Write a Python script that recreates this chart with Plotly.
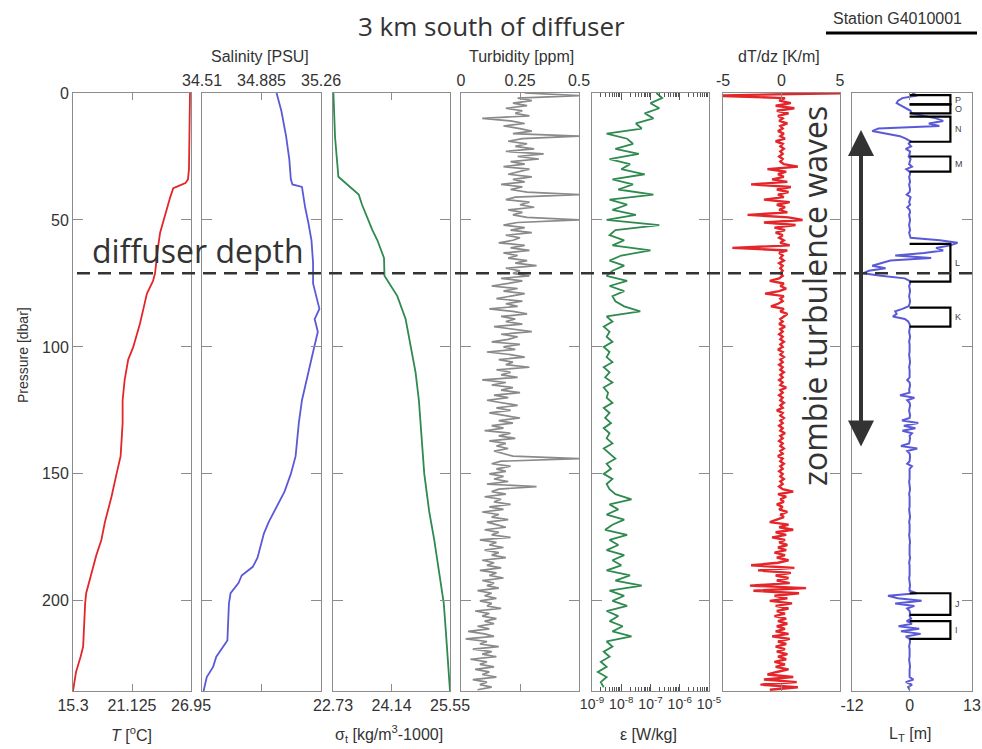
import numpy as np
import plotly.graph_objects as go

W, H = 982, 749

# ---------------- data ----------------
# Temperature profile [deg C]
T_p = [0, 10, 20, 30, 34, 35.5, 36.5, 37.5, 41, 46, 50, 55, 62, 71, 74, 79, 85, 91, 100, 105,
       113, 121, 130, 143, 150, 159, 169, 176, 182, 189, 193, 197, 201, 210, 218, 222, 228, 235.5]
T_v = [26.85, 26.84, 26.82, 26.75, 26.65, 26.4, 25.8, 25.2, 24.9, 24.55, 24.2, 23.9, 23.65, 23.4,
       23.2, 22.6, 22.25, 21.9, 21.25, 20.75, 20.4, 20.2, 20.2, 20.0, 19.6, 19.1, 18.45, 18.1,
       17.6, 17.15, 16.9, 16.6, 16.5, 16.4, 16.3, 16.05, 15.6, 15.3]

# Salinity profile [PSU]
S_p = [0, 7, 17, 26, 34, 36, 37, 45, 51, 58, 67, 75, 80, 85, 89, 94, 102, 113, 121, 130, 143,
       150, 157, 169, 173.5, 183, 186.6, 190, 193, 197, 201, 208, 215.6, 222, 226, 230, 235.5]
S_v = [34.98, 35.01, 35.04, 35.06, 35.07, 35.08, 35.14, 35.16, 35.18, 35.20, 35.21, 35.21, 35.23,
       35.25, 35.22, 35.24, 35.21, 35.17, 35.14, 35.12, 35.10, 35.07, 35.03, 34.93, 34.90, 34.86,
       34.83, 34.76, 34.74, 34.69, 34.68, 34.675, 34.67, 34.60, 34.58, 34.54, 34.52]

# sigma_t profile [kg/m3 - 1000]
Sg_p = [0, 17.5, 33, 34.3, 37, 40, 44, 49, 54, 58, 65, 72, 76, 80, 89, 102, 110, 121, 135, 150,
        165, 176, 189, 201, 212, 222, 235.5]
Sg_v = [22.74, 22.78, 22.86, 22.95, 23.15, 23.35, 23.43, 23.55, 23.68, 23.80, 23.96, 23.97, 24.12,
        24.28, 24.48, 24.64, 24.72, 24.80, 24.86, 24.93, 25.05, 25.17, 25.29, 25.40, 25.45, 25.50,
        25.55]

# Turbidity [ppm], 1 dbar steps from 0 dbar
turb = [0.27, 0.50, 0.24, 0.30, 0.22, 0.28, 0.19, 0.26, 0.23, 0.29,
        0.09, 0.21, 0.27, 0.18, 0.25, 0.30, 0.22, 0.50, 0.26, 0.20,
        0.28, 0.23, 0.31, 0.19, 0.35, 0.24, 0.33, 0.21, 0.27, 0.18,
        0.29, 0.24, 0.20, 0.30, 0.22, 0.27, 0.17, 0.26, 0.21, 0.28,
        0.50, 0.23, 0.19, 0.29, 0.25, 0.31, 0.20, 0.26, 0.22, 0.28,
        0.50, 0.24, 0.18, 0.27, 0.21, 0.30, 0.19, 0.25, 0.22, 0.16,
        0.27, 0.21, 0.29, 0.18, 0.24, 0.20, 0.28, 0.23, 0.32, 0.19,
        0.25, 0.22, 0.29, 0.17, 0.26, 0.20, 0.13, 0.24, 0.18, 0.27,
        0.21, 0.15, 0.26, 0.19, 0.24, 0.12, 0.22, 0.28, 0.17, 0.23,
        0.19, 0.26, 0.14, 0.22, 0.30, 0.17, 0.24, 0.20, 0.13, 0.25,
        0.18, 0.23, 0.11, 0.21, 0.27, 0.16, 0.22, 0.19, 0.29, 0.15,
        0.21, 0.17, 0.24, 0.09, 0.19, 0.13, 0.22, 0.17, 0.25, 0.14,
        0.20, 0.11, 0.18, 0.24, 0.15, 0.21, 0.12, 0.19, 0.25, 0.16,
        0.22, 0.13, 0.18, 0.10, 0.21, 0.16, 0.23, 0.12, 0.19, 0.15,
        0.20, 0.14, 0.18, 0.22, 0.50, 0.17, 0.13, 0.21, 0.15, 0.19,
        0.12, 0.18, 0.14, 0.20, 0.11, 0.32, 0.16, 0.13, 0.19, 0.10,
        0.17, 0.14, 0.21, 0.12, 0.18, 0.09, 0.16, 0.13, 0.20, 0.11,
        0.15, 0.19, 0.10, 0.16, 0.13, 0.21, 0.08, 0.15, 0.12, 0.18,
        0.10, 0.16, 0.13, 0.19, 0.09, 0.14, 0.11, 0.17, 0.08, 0.15,
        0.12, 0.18, 0.09, 0.14, 0.11, 0.16, 0.07, 0.13, 0.10, 0.15,
        0.08, 0.13, 0.11, 0.17, 0.06, 0.12, 0.09, 0.15, 0.10, 0.14,
        0.07, 0.12, 0.03, 0.10, 0.14, 0.02, 0.11, 0.08, 0.16, 0.05,
        0.13, 0.09, 0.15, 0.04, 0.11, 0.08, 0.14, 0.06, 0.12, 0.09,
        0.15, 0.05, 0.11, 0.08, 0.13, 0.07]

# Dissipation rate log10(epsilon [W/kg]), 2 dbar steps from 0 dbar
eps_log = [-6.8, -6.6, -7.0, -6.7, -7.2, -6.9, -7.5, -7.3, -8.5, -7.8,
           -7.6, -8.2, -7.4, -8.4, -7.7, -8.0, -7.2, -8.3, -7.6, -8.1,
           -6.9, -8.4, -7.8, -8.3, -7.5, -8.5, -6.7, -8.2, -8.4, -7.9,
           -8.3, -7.0, -8.0, -8.4, -7.9, -8.3, -8.5, -7.8, -8.4, -7.9,
           -8.3, -8.2, -7.9, -7.35, -8.5, -8.3, -8.6, -8.4, -8.5, -8.3,
           -8.6, -8.4, -8.5, -8.3, -8.6, -8.4, -8.55, -8.3, -8.6, -8.45,
           -8.5, -8.3, -8.6, -8.4, -8.55, -8.35, -8.6, -8.4, -8.5, -8.3,
           -8.6, -8.4, -8.2, -8.5, -8.35, -8.6, -8.3, -8.5, -8.4, -8.2,
           -7.65, -8.4, -8.1, -8.5, -7.9, -8.3, -8.55, -7.8, -8.4, -8.1,
           -8.5, -7.9, -8.3, -8.0, -8.5, -7.7, -8.2, -7.3, -8.4, -7.9,
           -8.3, -7.8, -8.5, -8.1, -8.4, -7.95, -8.3, -7.65, -8.5, -8.3,
           -8.6, -8.4, -8.7, -8.5, -8.8, -8.5, -8.7, -8.6]

# Temperature gradient dT/dz [K/m], 1 dbar steps from 0 dbar
dTdz = [6.0, -6.0, 0.3, -0.2, 0.8, -0.5, 1.1, -0.4, 0.6, -0.3,
        0.1, -0.2, 0.5, -0.1, 0.1, -0.3, 0.2, -0.1, 0.3, -0.5,
        0.1, -0.1, 0.2, -0.1, 0.1, -0.2, 0.1, -0.1, 0.2, 1.4,
        -1.2, 0.4, -0.3, 0.2, -0.8, 0.5, -2.6, 0.8, -0.4, 0.6,
        -0.3, 0.2, -1.5, 0.7, -0.4, 0.3, -0.2, 0.5, -2.9, 0.6,
        1.8, -1.5, 1.2, -0.6, 0.3, -0.5, 0.1, -0.2, 0.2, -0.1,
        0.7, -4.2, 0.5, -0.2, 0.1, -0.1, 0.2, -0.2, 0.1, -0.1,
        0.1, -0.1, 0.1, -0.2, -1.0, 0.2, -0.1, 0.4, -0.2, -1.4,
        0.2, -0.1, 0.1, -0.3, -0.9, 0.2, -0.1, 0.5, 0.2, -0.1,
        0.1, -0.2, 0.3, -0.1, 0.1, -0.2, 0.1, -0.1, 0.2, -0.1,
        0.1, -0.3, 0.1, -0.1, 0.2, -0.1, 0.1, -0.2, 0.1, -0.1,
        0.2, -0.1, 0.1, -0.2, 0.1, -0.1, 0.4, -0.1, 0.1, -0.2,
        0.1, -0.1, 0.2, -0.1, 0.1, -0.4, 0.1, -0.1, 0.2, -0.1,
        0.1, -0.2, 0.1, -0.1, 0.3, -0.1, 0.1, -0.2, 0.1, -0.1,
        0.2, -0.1, 0.1, -0.3, 0.1, -0.1, 0.2, -0.1, 0.1, -0.2,
        0.1, -0.1, 0.2, -0.1, 0.1, -0.2, 0.1, 1.0, -0.3, 0.4,
        -0.1, 0.2, -0.4, 0.1, -0.2, 0.5, -0.1, 0.2, -0.4, -1.0,
        0.6, -0.2, 1.0, -0.5, 0.4, -0.8, 0.3, -0.2, 0.5, -0.3,
        0.4, -0.6, 0.3, -0.4, 0.6, -0.3, -2.6, 1.1, -2.0, 0.8,
        -0.5, 0.6, -0.4, 0.7, -2.7, 2.1, -2.4, 1.5, -0.6, 0.5,
        -1.0, 0.9, -0.5, 0.6, -0.4, 0.3, -0.6, 0.4, -0.3, 0.5,
        -0.4, 0.3, -0.5, 0.6, -0.8, 0.7, -0.3, 0.4, -0.5, 0.3,
        -0.4, 0.5, -0.3, 0.4, -0.6, 0.3, -0.5, 0.6, -0.4, -1.2,
        1.0, -1.5, 1.3, -1.8, 1.4, -1.0]

# Thorpe displacement L_T [m], 1 dbar steps from 0 dbar
LT = [0.5, 1.6, -1.5, -2.4, -2.7, -1.8, -0.8, 0.2, 0.4, 2.8,
      5.5, 7.0, 4.0, 6.2, -6.5, -7.8, -4.5, -2.0, -0.8, 0.2,
      -0.2, 0.3, -0.8, 0.1, 0.0, -0.2, 0.2, 0.0, -0.1, 0.5,
      -0.7, 0.0, 0.1, -0.1, 0.0, 0.1, -0.1, 0.0, 0.1, 0.0,
      -0.6, 0.2, 0.0, -0.1, 0.1, -0.5, 0.0, 0.1, -0.1, 0.0,
      0.1, 0.0, -0.1, 0.0, 0.1, -0.1, 0.0, 0.2, 6.3, 10.0,
      8.5, 5.5, 7.0, 3.0, -3.0, 4.5, -4.0, -6.0, -7.8, -5.0,
      -8.5, -9.7, -6.0, -1.0, 0.0, 0.1, -0.1, 0.0, 0.1, 0.0,
      -0.1, 0.0, 0.1, 0.0, -0.2, -1.5, -3.0, -2.7, -3.5, -1.0,
      -0.3, 0.0, 0.1, 0.0, -0.1, 0.0, 0.1, 0.0, -0.1, 0.0,
      0.0, 0.1, 0.0, -0.1, 0.0, 0.0, 0.1, 0.0, -0.1, 0.0,
      0.0, 0.1, 0.0, -0.5, 0.0, 0.1, 0.0, -0.1, 0.0, -2.0,
      1.0, -0.5, 0.0, 0.1, 0.0, -0.1, 0.0, 0.1, 0.0, -1.6,
      1.8, -1.2, 1.2, -1.5, 0.5, 0.0, 0.1, 0.0, -0.1, -1.8,
      1.6, -0.5, 0.0, 0.1, 0.0, 0.0, -0.5, 0.5, 0.0, 0.0,
      0.0, 0.1, 0.0, -0.1, 0.0, 0.0, 0.1, 0.0, -0.1, 0.0,
      0.0, 0.0, 0.1, 0.0, -0.1, 0.0, 0.0, 0.1, 0.0, -0.1,
      0.0, 0.0, 0.1, 0.0, -0.1, 0.0, 0.0, 0.1, 0.0, 0.0,
      -0.1, 0.0, 0.0, 0.1, 0.0, -0.1, 0.0, 0.0, 0.1, 0.0,
      0.0, -0.1, 0.0, 0.0, 0.1, 0.0, 0.0, 1.5, -4.5, -2.5,
      2.5, -3.0, 1.0, -0.5, 0.0, 0.1, 0.0, 0.3, -0.6, 0.5,
      -2.3, 2.0, -1.8, 2.3, -0.8, 0.0, 0.1, 0.0, -0.1, 0.0,
      0.0, 0.1, 0.0, -0.1, 0.0, 0.0, 0.1, 0.0, 0.0, -0.1,
      0.0, 0.8, -0.8, 0.5, -0.3, 0.0]

# Overturn brackets (pressure range [dbar]) and labels
br_top = [0.8, 4.5, 9.3, 25.0, 59.4, 84.5, 197.0, 208.0]
br_bot = [4.5, 8.0, 19.2, 31.0, 74.3, 92.0, 205.5, 215.0]
br_lab = ['P', 'O', 'N', 'M', 'L', 'K', 'J', 'I']
br_width = 8.5          # L_T extent of brackets [m]

diffuser_depth = 71     # dbar

# Axis ranges and tick labels
x_ranges = [[15.3, 26.95], [34.51, 35.26], [22.73, 25.55], [0, 0.5], [-9, -5], [-5, 5], [-12, 13]]
x_tickvals = [[15.3, 21.125, 26.95], [34.51, 34.885, 35.26], [22.73, 24.14, 25.55],
              [0, 0.25, 0.5], [1e-9, 1e-8, 1e-7, 1e-6, 1e-5], [-5, 0, 5], [-12, 0, 13]]
x_ticktext = [['15.3', '21.125', '26.95'], ['34.51', '34.885', '35.26'], ['22.73', '24.14', '25.55'],
              ['0', '0.25', '0.5'],
              ['10<sup>-9</sup>', '10<sup>-8</sup>', '10<sup>-7</sup>', '10<sup>-6</sup>', '10<sup>-5</sup>'],
              ['-5', '0', '5'], ['-12', '0', '13']]
x_sides = ['bottom', 'top', 'bottom', 'top', 'bottom', 'top', 'bottom']
p_ticks = [0, 50, 100, 150, 200]
p_range = [235.5, 0]

# ---------------- layout geometry (pixels) ----------------
PANELS = [(73, 191), (202, 321), (333, 450), (461, 579), (592, 709), (723, 840), (852, 972)]
Y_TOP, Y_BOT = 93, 691


def px(x):
    return x / W


def py(y):
    return 1 - y / H


RED = '#e4262a'
BLUE = '#5a5ad8'
GREEN = '#2e8a4f'
GRAY = '#8a8a8a'
TXT = '#333333'
AX = '#8c8c8c'

fig = go.Figure()

P1 = np.arange(len(turb))
P2 = np.arange(len(eps_log)) * 2
P_dT = np.arange(len(dTdz))
P_LT = np.arange(len(LT))

series = [
    (T_v, T_p, RED, 1.8),
    (S_v, S_p, BLUE, 1.8),
    (Sg_v, Sg_p, GREEN, 1.8),
    (turb, P1, GRAY, 1.7),
    (list(10 ** np.array(eps_log)), P2, GREEN, 1.8),
    (dTdz, P_dT, RED, 2.4),
    (LT, P_LT, BLUE, 2.0),
]
for i, (xv, yv, col, lw) in enumerate(series):
    sfx = '' if i == 0 else str(i + 1)
    fig.add_trace(go.Scatter(x=xv, y=yv, mode='lines', line=dict(color=col, width=lw),
                             xaxis='x' + sfx, yaxis='y' + sfx, showlegend=False,
                             hoverinfo='skip'))

# brackets on L_T panel
bx, by = [], []
for t, b in zip(br_top, br_bot):
    bx += [0, br_width, br_width, 0, None]
    by += [t, t, b, b, None]
fig.add_trace(go.Scatter(x=bx, y=by, mode='lines', line=dict(color='black', width=2.2),
                         xaxis='x7', yaxis='y7', showlegend=False, hoverinfo='skip'))

layout = dict(width=W, height=H, margin=dict(l=0, r=0, t=0, b=0, autoexpand=False),
              paper_bgcolor='white', plot_bgcolor='white', showlegend=False)

minor_log = [k * 10.0 ** n for n in range(-9, -5) for k in range(2, 10)]

for i in range(7):
    sfx = '' if i == 0 else str(i + 1)
    x0, x1 = PANELS[i]
    xa = dict(domain=[px(x0), px(x1)], anchor='y' + sfx, side=x_sides[i],
              tickvals=x_tickvals[i], ticktext=x_ticktext[i], tickangle=0,
              ticks='inside', ticklen=7, tickcolor=AX, tickwidth=1,
              showline=True, linecolor=AX, linewidth=1, mirror='ticks',
              showgrid=False, zeroline=False, automargin=False,
              tickfont=dict(family='Liberation Sans, Arial', size=16, color=TXT))
    if i == 4:
        xa.update(type='log', range=x_ranges[i], tickfont=dict(family='Liberation Sans, Arial', size=14, color=TXT),
                  minor=dict(tickvals=minor_log, ticks='inside', ticklen=4, tickcolor='#555', showgrid=False),
                  ticklen=7, tickcolor='#555')
    else:
        xa.update(range=x_ranges[i])
    ya = dict(domain=[py(Y_BOT), py(Y_TOP)], anchor='x' + sfx, range=p_range,
              tickvals=p_ticks, ticks='inside', ticklen=10, tickcolor=AX,
              showline=True, linecolor=AX, linewidth=1, mirror='ticks',
              showgrid=False, zeroline=False, showticklabels=(i == 0), automargin=False,
              tickfont=dict(family='Liberation Sans, Arial', size=16, color=TXT))
    layout['xaxis' + sfx] = xa
    layout['yaxis' + sfx] = ya

fig.update_layout(**layout)

ann = []


def text(x, y, s, size, family='Liberation Sans, Arial', angle=0, color=TXT):
    ann.append(dict(x=px(x), y=py(y), xref='paper', yref='paper', text=s, showarrow=False,
                    xanchor='center', yanchor='middle', textangle=angle,
                    font=dict(family=family, size=size, color=color)))


text(492, 26, '3 km south of diffuser', 26, family='Open Sans')
text(897, 19, 'Station G4010001', 16)
text(260, 56, 'Salinity [PSU]', 16)
text(521, 56, 'Turbidity [ppm]', 16)
text(779, 56, 'dT/dz [K/m]', 16)
text(131, 734, '<i>T</i> [<sup>o</sup>C]', 16)
text(389, 734, 'σ<sub>t</sub> [kg/m<sup>3</sup>-1000]', 16)
text(648, 734, 'ε [W/kg]', 16)
text(910, 734, 'L<sub>T</sub> [m]', 16)
text(23, 355, 'Pressure [dbar]', 14, angle=-90)
text(198, 250, 'diffuser depth', 32, family='Open Sans')
text(814, 296, 'zombie turbulence waves', 32, family='Open Sans', angle=-90)

# bracket letters
for t, b, lab in zip(br_top, br_bot, br_lab):
    ann.append(dict(x=br_width + 0.6, y=(t + b) / 2, xref='x7', yref='y7', text=lab,
                    showarrow=False, xanchor='left', yanchor='middle',
                    font=dict(family='Liberation Sans, Arial', size=9, color='#444')))

# double-headed arrow
ann.append(dict(x=px(861), y=py(130), xref='paper', yref='paper', text='',
                showarrow=True, ax=0, ay=318, arrowhead=2, startarrowhead=2, arrowside='end+start',
                arrowsize=1.3, startarrowsize=1.3, arrowwidth=4, arrowcolor='#333333',
                standoff=0, startstandoff=0))

fig.update_layout(annotations=ann)

# diffuser depth dashed line and station underline
fig.add_shape(type='line', xref='paper', yref='y', x0=px(77), x1=px(976),
              y0=diffuser_depth, y1=diffuser_depth,
              line=dict(color='#333333', width=2.5, dash='13px,8px'))
fig.add_shape(type='line', xref='paper', yref='paper', x0=px(826), x1=px(977),
              y0=py(33), y1=py(33), line=dict(color='black', width=3))

fig.write_html('out.html', config={'displayModeBar': False},
               post_script="document.body.style.margin='0';document.body.style.overflow='hidden';")
